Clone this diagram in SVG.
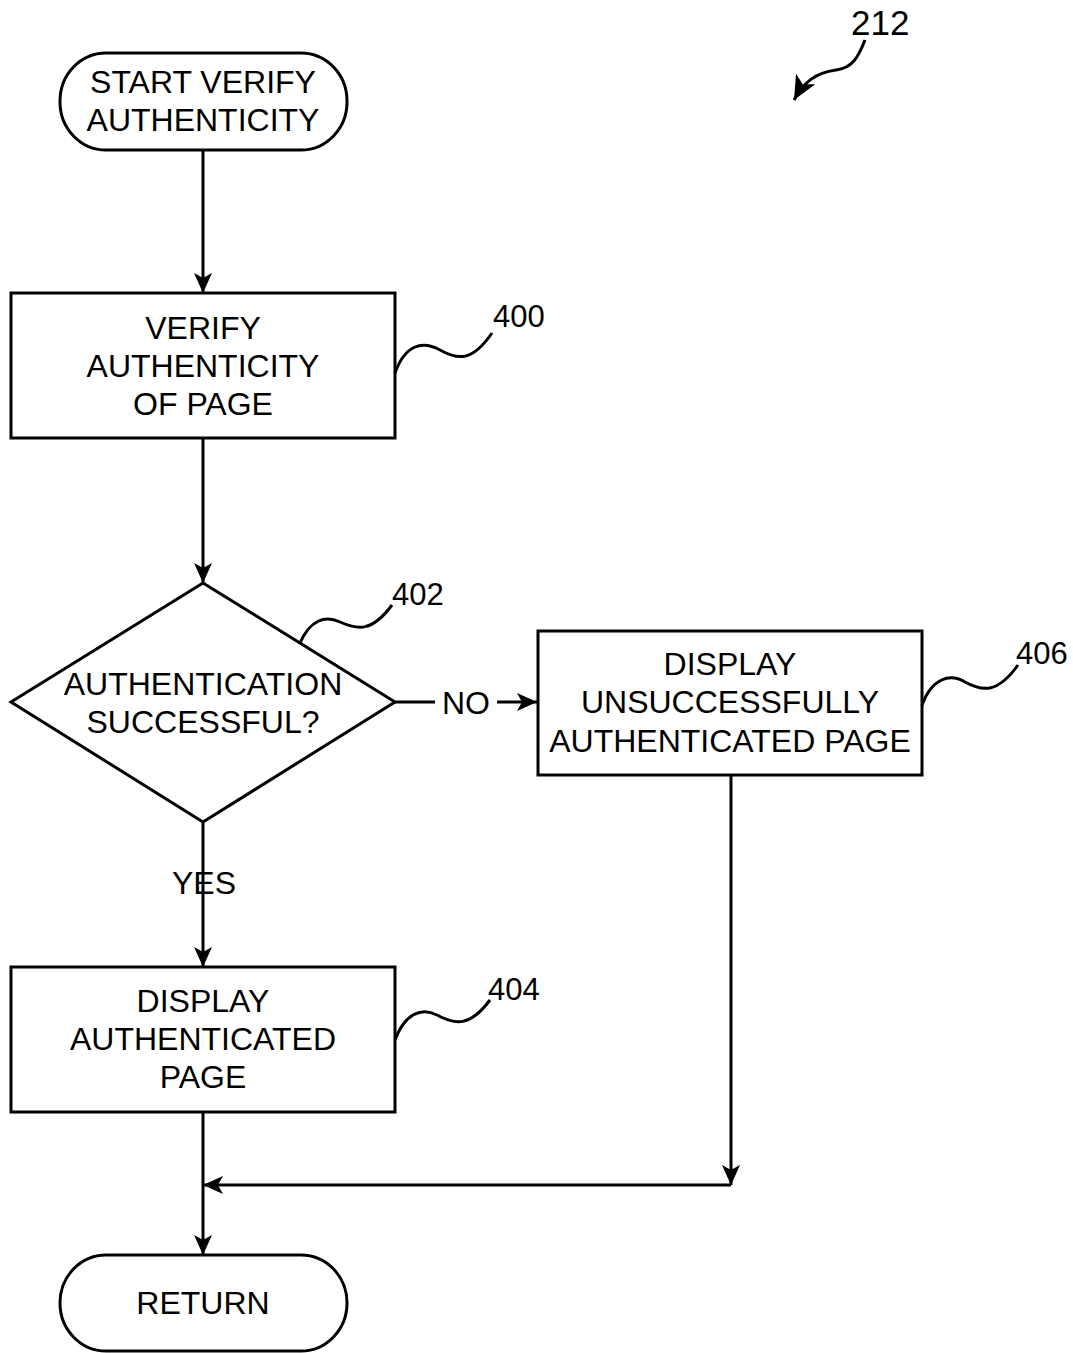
<svg xmlns="http://www.w3.org/2000/svg" width="1073" height="1353" viewBox="0 0 1073 1353">
<defs>
<style>
.s{fill:#fff;stroke:#000;stroke-width:3}
.l{fill:none;stroke:#000;stroke-width:3}
.t{font-family:"Liberation Sans",Arial,sans-serif;font-size:32px;fill:#000;text-anchor:middle}
.n{font-family:"Liberation Sans",Arial,sans-serif;font-size:31px;fill:#000}
</style>
<marker id="b" viewBox="0 0 20 20" refX="20" refY="10" markerWidth="20" markerHeight="20" markerUnits="userSpaceOnUse" orient="auto">
<path d="M0,1 L20,10 L0,19 L5,10 Z" fill="#000"/>
</marker>
<marker id="c" viewBox="0 0 24 24" refX="24" refY="12" markerWidth="24" markerHeight="24" markerUnits="userSpaceOnUse" orient="auto">
<path d="M0,1 L24,12 L0,23 L6,12 Z" fill="#000"/>
</marker>
</defs>
<rect width="1073" height="1353" fill="#fff"/>
<g id="connectors">
<line class="l" x1="203" y1="150" x2="203" y2="293" marker-end="url(#b)"/>
<line class="l" x1="203" y1="438" x2="203" y2="583" marker-end="url(#b)"/>
<line class="l" x1="395" y1="702" x2="435" y2="702"/>
<line class="l" x1="497" y1="702" x2="537" y2="702" marker-end="url(#b)"/>
<line class="l" x1="203" y1="822" x2="203" y2="967" marker-end="url(#b)"/>
<line class="l" x1="731" y1="775" x2="731" y2="1185" marker-end="url(#b)"/>
<line class="l" x1="731" y1="1185" x2="203" y2="1185" marker-end="url(#b)"/>
<line class="l" x1="203" y1="1112" x2="203" y2="1255" marker-end="url(#b)"/>
<text class="t" x="466" y="714">NO</text>
<text class="t" x="204" y="894">YES</text>
</g>
<g id="start">
<rect class="s" x="60" y="53" width="287" height="97" rx="46" ry="48"/>
<text class="t" x="203" y="93">START VERIFY</text>
<text class="t" x="203" y="131">AUTHENTICITY</text>
</g>
<g id="n400">
<rect class="s" x="11" y="293" width="384" height="145"/>
<text class="t" x="203" y="339">VERIFY</text>
<text class="t" x="203" y="377">AUTHENTICITY</text>
<text class="t" x="203" y="415">OF PAGE</text>
<path class="l" d="M395,373 C405,345 422,340 440,350 C458,360 472,362 492,333"/>
<text class="n" x="493" y="327">400</text>
</g>
<g id="n402">
<polygon class="s" points="203,583 395,702 203,822 11,702"/>
<text class="t" x="203" y="695">AUTHENTICATION</text>
<text class="t" x="203" y="733">SUCCESSFUL?</text>
<path class="l" d="M300,643 C310,620 325,615 340,622 C358,630 372,632 392,605"/>
<text class="n" x="392" y="605">402</text>
</g>
<g id="n406">
<rect class="s" x="538" y="631" width="384" height="144"/>
<text class="t" x="730" y="675">DISPLAY</text>
<text class="t" x="730" y="713">UNSUCCESSFULLY</text>
<text class="t" x="730" y="752">AUTHENTICATED PAGE</text>
<path class="l" d="M922,705 C932,678 950,673 965,682 C983,692 998,693 1018,665"/>
<text class="n" x="1016" y="664">406</text>
</g>
<g id="n404">
<rect class="s" x="11" y="967" width="384" height="145"/>
<text class="t" x="203" y="1012">DISPLAY</text>
<text class="t" x="203" y="1050">AUTHENTICATED</text>
<text class="t" x="203" y="1088">PAGE</text>
<path class="l" d="M395,1040 C405,1013 422,1007 437,1015 C455,1025 470,1027 490,1000"/>
<text class="n" x="488" y="1000">404</text>
</g>
<g id="ret">
<rect class="s" x="60" y="1255" width="287" height="96" rx="46" ry="48"/>
<text class="t" x="203" y="1314">RETURN</text>
</g>
<g id="ref212">
<text class="n" x="851" y="35" style="font-size:35px">212</text>
<path class="l" d="M865,40 C858,58 852,68 836,70 C815,73 804,82 794,100" marker-end="url(#c)"/>
</g>
</svg>
